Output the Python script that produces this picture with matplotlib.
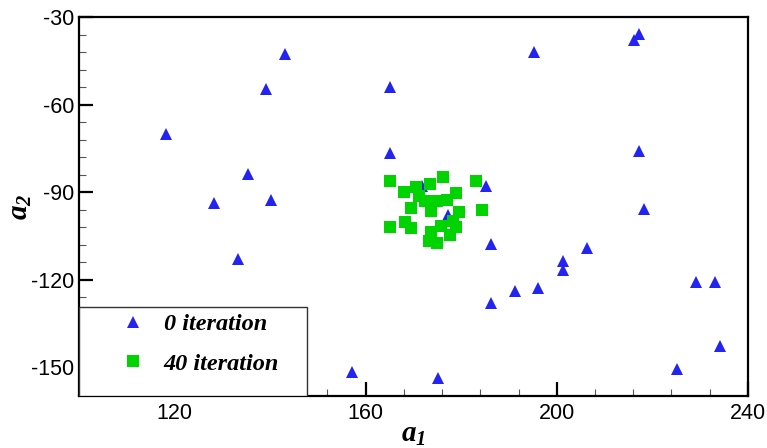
import matplotlib.pyplot as plt
from matplotlib.patches import Rectangle
from matplotlib.ticker import MultipleLocator

plt.rcParams['font.family'] = ['Liberation Sans', 'DejaVu Sans']
plt.rcParams['axes.unicode_minus'] = False
plt.rcParams['mathtext.fontset'] = 'custom'
plt.rcParams['mathtext.it'] = 'Liberation Serif:italic:bold'
plt.rcParams['mathtext.rm'] = 'Liberation Serif:italic:bold'

# particles at iteration 0
a1_iter0 = [143.2, 139.2, 118.2, 135.3, 128.2, 140.2, 133.3, 195.2, 165.2, 165.2,
            171.8, 185.1, 177.2, 186.3, 201.4, 201.4, 191.2, 196.1, 186.3, 157.2,
            175.1, 217.3, 216.2, 217.3, 218.3, 206.3, 229.1, 233.2, 234.2, 225.2]
a2_iter0 = [-42.7, -54.7, -69.8, -83.7, -93.6, -92.6, -112.8, -41.8, -54.0, -76.6,
            -87.7, -87.7, -97.8, -107.8, -113.4, -116.6, -123.7, -122.7, -127.8, -151.5,
            -153.8, -35.7, -37.8, -75.7, -95.7, -109.0, -120.8, -120.8, -142.7, -150.7]

# particles at iteration 40
a1_iter40 = [165.2, 176.2, 183.2, 168.1, 173.4, 179.0, 171.1, 169.4, 172.5, 175.0,
             184.3, 179.6, 173.6, 165.2, 168.3, 169.4, 178.2, 175.7, 173.6, 177.6,
             173.2, 174.9, 170.5, 177.0, 179.0]
a2_iter40 = [-86.1, -84.7, -86.1, -89.9, -87.1, -90.2, -91.3, -95.4, -93.0, -93.0,
             -96.1, -96.7, -96.4, -101.9, -100.2, -102.2, -99.8, -101.5, -103.6, -104.6,
             -106.7, -107.3, -88.0, -92.5, -102.0]

labels = ['0 iteration', '40 iteration']

fig = plt.figure(figsize=(7.67, 4.48), dpi=100)
ax = fig.add_axes([0.103, 0.115, 0.872, 0.846])

ax.plot(a1_iter0, a2_iter0, '^', color='#2323f2', markersize=9, markeredgewidth=0,
        label=labels[0], zorder=3)
ax.plot(a1_iter40, a2_iter40, 's', color='#00d400', markersize=8.5, markeredgewidth=0,
        label=labels[1], zorder=4)

ax.set_xlim(100, 240)
ax.set_ylim(-160, -30)
ax.xaxis.set_major_locator(MultipleLocator(40))
ax.xaxis.set_minor_locator(MultipleLocator(8))
ax.yaxis.set_major_locator(MultipleLocator(30))
ax.yaxis.set_minor_locator(MultipleLocator(6))
ax.tick_params(which='both', direction='in', top=False, right=False, labelsize=15.5)
ax.tick_params(which='major', length=10, width=1.6)
ax.tick_params(which='minor', length=5, width=0.8, color='#555555')
ax.tick_params(axis='x', pad=5)
for s in ax.spines.values():
    s.set_linewidth(1.6)

ax.set_xlabel(r'$a_1$', fontsize=21, labelpad=-3)
ax.set_ylabel(r'$a_2$', fontsize=21, labelpad=-2)

# legend frame sits in the lower left corner, flush with the axes
ax.add_patch(Rectangle((0, 0), 0.341, 0.237, transform=ax.transAxes, facecolor='white',
                       edgecolor='#333333', linewidth=1.0, zorder=5))
leg = ax.legend(loc='upper left', bbox_to_anchor=(0.063, 0.219), frameon=False,
                borderpad=0, borderaxespad=0, handlelength=1.0, handletextpad=0.75,
                labelspacing=0.72, prop={'family': 'Liberation Serif', 'weight': 'bold',
                                         'style': 'italic', 'size': 17.5})
leg.set_zorder(6)

fig.savefig('out.png', dpi=100)
